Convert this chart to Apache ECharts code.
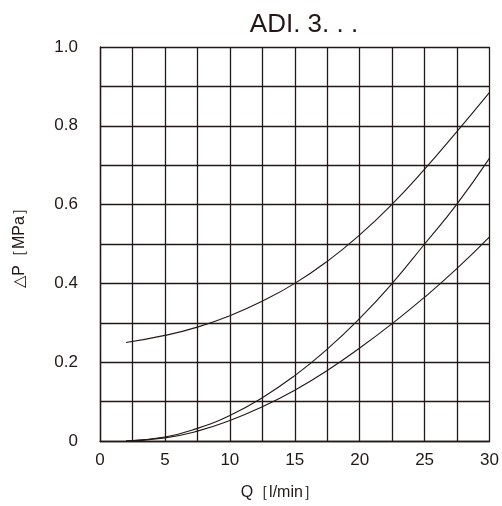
<!DOCTYPE html>
<html>
<head>
<meta charset="utf-8">
<script src="https://cdn.jsdelivr.net/npm/echarts@6/dist/echarts.min.js"></script>
<style>html,body{margin:0;padding:0;background:#fff}#c{width:502px;height:506px}</style>
</head>
<body>
<div id="c"></div>
<script>
var flowQ = [2, 5, 7.5, 10, 12.5, 15, 17.5, 20, 22.5, 25, 27.5, 30];
var curveTop = [0.25, 0.268, 0.289, 0.318, 0.355, 0.400, 0.456, 0.523, 0.601, 0.690, 0.786, 0.885];
var curveMid = [0, 0.010, 0.032, 0.065, 0.110, 0.166, 0.233, 0.311, 0.400, 0.500, 0.602, 0.718];
var curveLow = [0, 0.008, 0.025, 0.052, 0.087, 0.129, 0.179, 0.236, 0.298, 0.365, 0.438, 0.518];
var xTickLabels = [0, 5, 10, 15, 20, 25, 30];
var yTickLabels = ['0', '0.2', '0.4', '0.6', '0.8', '1.0'];

function pairs(ys) { return flowQ.map(function (x, i) { return [x, ys[i]]; }); }
var ink = '#231815';
var font = 'Liberation Sans, Arial, sans-serif';
var chart = echarts.init(document.getElementById('c'));
function lineSeries(ys) {
  return { type: 'line', data: pairs(ys), smooth: true, symbol: 'none',
    lineStyle: { color: ink, width: 1.1 }, z: 5 };
}
chart.setOption({
  animation: false,
  title: { text: 'ADI. 3. . .', left: 299, top: 7, textAlign: 'center',
    textStyle: { fontFamily: font, fontSize: 26, fontWeight: 'normal', color: ink } },
  grid: { left: 100, right: 12, top: 47, bottom: 58 },
  xAxis: {
    type: 'value', min: 0, max: 30, interval: 2.5,
    name: 'Q［l/min］', nameLocation: 'middle', nameGap: 44,
    nameTextStyle: { fontFamily: font, fontSize: 16, color: ink, padding: [0, 30, 0, 0] },
    axisLine: { show: true, lineStyle: { color: ink, width: 1.3 } },
    axisTick: { show: false },
    axisLabel: { margin: 11, fontFamily: font, fontSize: 17, color: ink,
      formatter: function (v) { return xTickLabels.indexOf(v) >= 0 ? String(v) : ''; } },
    splitLine: { show: true, lineStyle: { color: ink, width: 1.3 } }
  },
  yAxis: {
    type: 'value', min: 0, max: 1.0, interval: 0.1,
    name: '△P［MPa］', nameLocation: 'middle', nameGap: 72, nameRotate: 90,
    nameTextStyle: { fontFamily: font, fontSize: 16, color: ink },
    axisLine: { show: true, lineStyle: { color: ink, width: 1.3 } },
    axisTick: { show: false },
    axisLabel: { margin: 22, fontFamily: font, fontSize: 17, color: ink,
      formatter: function (v) {
        var k = Math.round(v * 10);
        return k % 2 === 0 ? yTickLabels[k / 2] : '';
      } },
    splitLine: { show: true, lineStyle: { color: ink, width: 1.3 } }
  },
  series: [lineSeries(curveTop), lineSeries(curveMid), lineSeries(curveLow)]
});
</script>
</body>
</html>
